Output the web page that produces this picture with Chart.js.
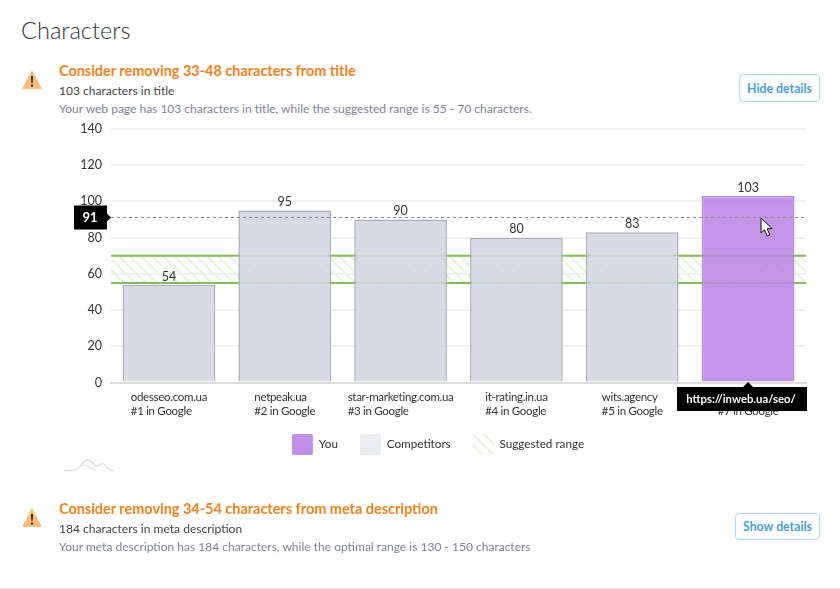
<!DOCTYPE html>
<html>
<head>
<meta charset="utf-8">
<title>Characters</title>
<script src="https://cdn.jsdelivr.net/npm/chart.js@4"></script>
<style>
html, body { margin: 0; padding: 0; background: #fff; overflow: hidden; }
body { width: 840px; height: 589px; position: relative; font-family: Lato, sans-serif; }
div, h2, svg, a { position: absolute; margin: 0; white-space: nowrap; }
h2 { left: 21px; top: 15px; font-size: 23.6px; line-height: 30px; font-weight: 300; color: #333; }
.head { left: 59px; font-size: 14.45px; line-height: 18px; font-weight: 700; color: #f5811f; }
.sub { left: 59px; font-size: 12.05px; line-height: 16px; color: #444; }
.note { left: 59px; font-size: 12.03px; line-height: 16px; color: #7f8299; }
.btn { box-sizing: border-box; border: 1px solid #a5d8f5; border-radius: 4px; background: #fff; color: #4a9fd4;
  font-size: 12.3px; font-weight: 700; text-align: center; }
#wrap { left: 0; top: 115px; width: 840px; height: 345px; }
#rule { left: 0; top: 588px; width: 840px; height: 1px; background: #d8dee6; }
</style>
</head>
<body>
<h2>Characters</h2>

<svg style="left:21px;top:69px" width="22" height="21" viewBox="0 0 22 21">
  <path d="M11 1 L21 20 L1 20 Z" fill="#fdbc7a"/>
  <path d="M10 7 H12 L11.6 14 H10.4 Z M10 15.5 H12 V17.5 H10 Z" fill="#222"/>
</svg>
<div class="head" style="top:62px">Consider removing 33-48 characters from title</div>
<div class="sub" style="top:83px">103 characters in title</div>
<div class="note" style="top:101px">Your web page has 103 characters in title, while the suggested range is 55 - 70 characters.</div>
<div class="btn" style="left:739px;top:74px;width:81px;height:28px;line-height:27px">Hide details</div>

<div id="wrap"><canvas id="chart" width="840" height="345"></canvas></div>

<svg style="left:64px;top:458px" width="50" height="15" viewBox="0 0 50 15" fill="none" stroke="#dcdcdc" stroke-width="1.5">
  <path d="M0 12.5 H10 C15 12.5 18 2 24 2 C29 2 29 8 33 8 C37 8 37 4 40 6 C43 8 43 12.5 50 12.5"/>
  <path d="M8 12.5 C15 12.5 16 7 20 7 C26 7 27 12.5 32 12.5" stroke="#e8e8e8"/>
</svg>

<svg style="left:21px;top:507px" width="22" height="21" viewBox="0 0 22 21">
  <path d="M11 1 L21 20 L1 20 Z" fill="#fdbc7a"/>
  <path d="M10 7 H12 L11.6 14 H10.4 Z M10 15.5 H12 V17.5 H10 Z" fill="#222"/>
</svg>
<div class="head" style="top:500px">Consider removing 34-54 characters from meta description</div>
<div class="sub" style="top:521px">184 characters in meta description</div>
<div class="note" style="top:539px">Your meta description has 184 characters, while the optimal range is 130 - 150 characters</div>
<div class="btn" style="left:735px;top:513px;width:85px;height:27px;line-height:26px">Show details</div>
<div id="rule"></div>

<svg style="left:760px;top:217px" width="14" height="21" viewBox="0 0 14 21">
  <path d="M1 1 V16 L4.6 12.8 L7.2 19 L9.8 17.9 L7.2 11.8 L12 11.6 Z" fill="#fff" stroke="#111" stroke-width="1"/>
</svg>

<script>
var categories = [
  ["odesseo.com.ua", "#1 in Google"],
  ["netpeak.ua", "#2 in Google"],
  ["star-marketing.com.ua", "#3 in Google"],
  ["it-rating.in.ua", "#4 in Google"],
  ["wits.agency", "#5 in Google"],
  ["inweb.ua", "#7 in Google"]
];
var competitors = [54, 95, 90, 80, 83, null];
var you = [null, null, null, null, null, 103];
var suggestedRange = [55, 70];
var averageValue = 91;
var youUrl = "https://inweb.ua/seo/";
var yTicks = { min: 0, max: 140, step: 20 };

Chart.defaults.font.family = "Lato, sans-serif";
Chart.defaults.color = "#333";
Chart.defaults.animation = false;

// diagonal hatch for the suggested range
function hatch() {
  var c = document.createElement("canvas");
  c.width = 11; c.height = 11;
  var g = c.getContext("2d");
  g.strokeStyle = "#eaf5e0";
  g.lineWidth = 2.5;
  g.beginPath();
  g.moveTo(-3, -3); g.lineTo(14, 14);
  g.moveTo(-3, 8); g.lineTo(3, 14);
  g.moveTo(8, -3); g.lineTo(14, 3);
  g.stroke();
  return document.createElement("canvas").getContext("2d").createPattern(c, "repeat");
}
var hatchFill = hatch();

var rangeBand = {
  id: "rangeBand",
  afterLayout: function(chart) {
    // pin the plot box vertically
    var a = chart.chartArea, y = chart.scales.y, x = chart.scales.x;
    a.top = 14; a.bottom = 267.5; a.height = 253.5;
    y.top = 14; y.bottom = 267.5; y.height = 253.5;
    y.configure();
    x.top = 267.5;
    // legend sits under the plot, not under the whole layout box
    chart.legend.left += 35;
    chart.legend.right += 35;
    chart.legend.top += 5;
    chart.legend.bottom += 5;
  },
  beforeDatasetsDraw: function(chart) {
    var a = chart.chartArea, y = chart.scales.y, ctx = chart.ctx;
    var lo = y.getPixelForValue(suggestedRange[0]), hi = y.getPixelForValue(suggestedRange[1]);
    ctx.save();
    ctx.fillStyle = hatchFill;
    ctx.fillRect(a.left, hi, a.right - a.left, lo - hi);
    ctx.strokeStyle = "#84bd55";
    ctx.lineWidth = 2;
    ctx.beginPath();
    ctx.moveTo(a.left, hi); ctx.lineTo(a.right, hi);
    ctx.moveTo(a.left, lo); ctx.lineTo(a.right, lo);
    ctx.stroke();
    ctx.restore();
  }
};

var extras = {
  id: "extras",
  afterDatasetsDraw: function(chart) {
    var ctx = chart.ctx, a = chart.chartArea, y = chart.scales.y, x = chart.scales.x;
    ctx.save();

    // value labels
    ctx.font = "12.5px Lato";
    ctx.fillStyle = "#333";
    ctx.textAlign = "center";
    ctx.textBaseline = "bottom";
    chart.data.datasets.forEach(function(ds, i) {
      if (ds.type === "line") return;
      chart.getDatasetMeta(i).data.forEach(function(bar, j) {
        if (ds.data[j] !== null) ctx.fillText(ds.data[j], bar.x, bar.y - 2);
      });
    });

    // category labels are a left aligned block centred under each bar
    ctx.font = "11.5px Lato";
    ctx.letterSpacing = "-0.3px";
    ctx.fillStyle = "#333";
    ctx.textAlign = "left";
    ctx.textBaseline = "middle";
    categories.forEach(function(lines, i) {
      var w = Math.max(ctx.measureText(lines[0]).width, ctx.measureText(lines[1]).width);
      var lx = x.getPixelForValue(i) - w / 2;
      ctx.fillText(lines[0], lx, a.bottom + 15);
      ctx.fillText(lines[1], lx, a.bottom + 29);
    });
    ctx.letterSpacing = "0px";
    ctx.textAlign = "center";

    // average line and tag
    var py = Math.floor(y.getPixelForValue(averageValue)) + 0.5;
    ctx.strokeStyle = "#8a8a8a";
    ctx.lineWidth = 1;
    ctx.setLineDash([3, 3]);
    ctx.beginPath();
    ctx.moveTo(a.left, py); ctx.lineTo(a.right, py);
    ctx.stroke();
    ctx.setLineDash([]);
    ctx.fillStyle = "#000";
    ctx.fillRect(a.left - 37, py - 12, 33, 24);
    ctx.beginPath();
    ctx.moveTo(a.left - 4, py - 4); ctx.lineTo(a.left, py); ctx.lineTo(a.left - 4, py + 4);
    ctx.fill();
    ctx.fillStyle = "#fff";
    ctx.font = "bold 13px Lato";
    ctx.fillText(averageValue, a.left - 21, py + 0.5);

    // url tooltip under the "You" bar
    var tx = x.getPixelForValue(5), ty = a.bottom + 4.5;
    ctx.fillStyle = "#000";
    ctx.fillRect(a.right - 129, ty, 130, 24);
    ctx.beginPath();
    ctx.moveTo(tx - 5, ty); ctx.lineTo(tx, ty - 5); ctx.lineTo(tx + 5, ty);
    ctx.fill();
    ctx.fillStyle = "#fff";
    ctx.font = "bold 11.3px Lato";
    ctx.fillText(youUrl, a.right - 65, ty + 12);
    ctx.restore();
  }
};

new Chart(document.getElementById("chart"), {
  type: "bar",
  data: {
    labels: categories,
    datasets: [
      { label: "You", data: you, grouped: false, backgroundColor: "rgba(184,130,226,0.85)", borderColor: "#b585e3", borderWidth: 1.5 },
      { label: "Competitors", data: competitors, grouped: false, backgroundColor: "rgba(209,213,224,0.85)", borderColor: "#a9adbd", borderWidth: 1.5 },
      { label: "Suggested range", type: "line", data: [], backgroundColor: hatchFill, borderColor: "transparent" }
    ]
  },
  options: {
    responsive: false,
    barPercentage: 0.8,
    categoryPercentage: 1,
    layout: { autoPadding: false, padding: { top: 12, right: 34, left: 0, bottom: 0 } },
    scales: {
      x: {
        grid: { display: false },
        border: { color: "#dcdcdc", width: 2 },
        afterFit: function(scale) { scale.height = 24; },
        ticks: { display: false }
      },
      y: {
        min: yTicks.min,
        max: yTicks.max,
        grid: { color: "#f0f0f0", lineWidth: 2, drawTicks: false },
        border: { display: false },
        afterFit: function(scale) { scale.width = 111; },
        ticks: { stepSize: yTicks.step, color: "#333", font: { size: 12.5 }, padding: 9 }
      }
    },
    plugins: {
      tooltip: { enabled: false },
      legend: {
        position: "bottom",
        labels: {
          color: "#333",
          font: { size: 11.7 },
          boxWidth: 21,
          boxHeight: 21,
          padding: 22,
          useBorderRadius: true,
          borderRadius: 2,
          generateLabels: function(chart) {
            var items = Chart.defaults.plugins.legend.labels.generateLabels(chart);
            items[0].fillStyle = "#c18fe6";
            items[1].fillStyle = "#e9edf2";
            items.forEach(function(it) { it.lineWidth = 0; it.strokeStyle = "transparent"; });
            return items;
          }
        }
      }
    }
  },
  plugins: [rangeBand, extras]
});
</script>
</body>
</html>
